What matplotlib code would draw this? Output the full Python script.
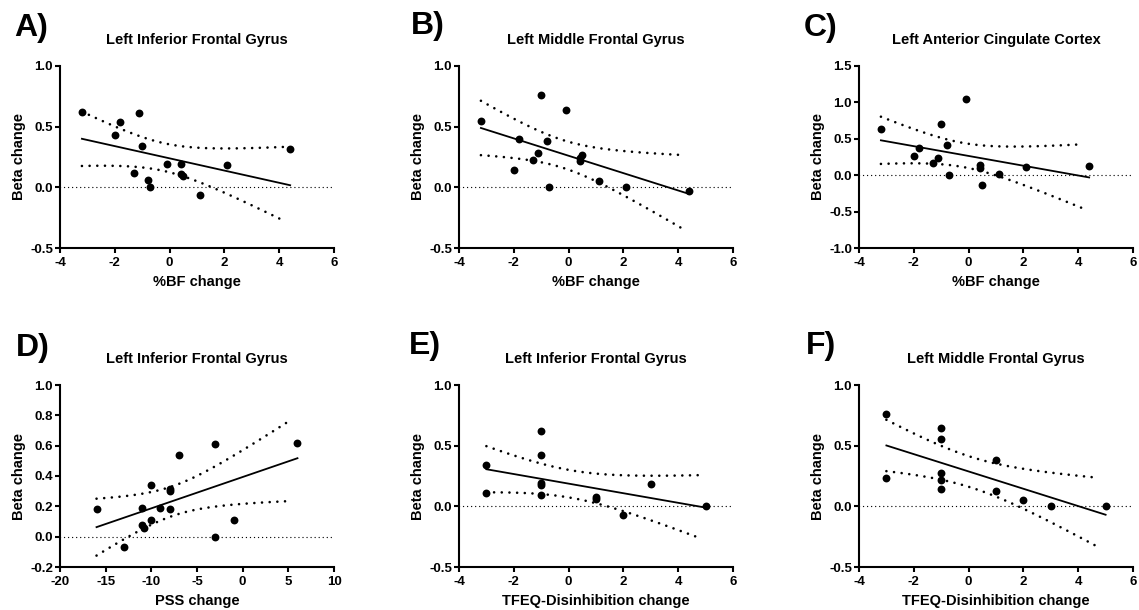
import numpy as np
import matplotlib.pyplot as plt

plt.rcParams['font.family'] = ['Liberation Sans', 'DejaVu Sans']
plt.rcParams['font.weight'] = 'bold'

# body fat change (%BF) for the top row
bf_a = [-3.2, -1.8, -2.0, -1.1, -1.0, -1.3, -0.8, -0.7, -0.1, 0.4, 0.4, 0.5, 1.1, 2.1, 4.4]
beta_a = [0.62, 0.54, 0.43, 0.61, 0.34, 0.115, 0.06, 0.0, 0.195, 0.195, 0.11, 0.09, -0.065, 0.18, 0.32]

bf_b = [-3.2, -1.0, -0.1, -1.8, -0.8, -1.1, -1.3, -2.0, -0.7, 0.5, 0.4, 0.4, 1.1, 2.1, 4.4]
beta_b = [0.55, 0.76, 0.64, 0.40, 0.38, 0.28, 0.225, 0.14, 0.0, 0.27, 0.22, 0.24, 0.05, 0.0, -0.03]

bf_c = [-3.2, -1.8, -2.0, -1.3, -1.1, -1.0, -0.8, -0.7, -0.1, 0.4, 0.4, 0.5, 1.1, 2.1, 4.4]
beta_c = [0.63, 0.38, 0.26, 0.17, 0.235, 0.71, 0.41, 0.0, 1.04, 0.14, 0.10, -0.14, 0.01, 0.11, 0.12]

# perceived stress change
pss_d = [-16, -13, -11, -11, -10.8, -10, -10, -9, -8, -8, -8, -7, -3, -3, -1, 6]
beta_d = [0.18, -0.068, 0.19, 0.08, 0.06, 0.34, 0.11, 0.19, 0.317, 0.30, 0.18, 0.54, 0.61, 0.0, 0.108, 0.62]

# TFEQ disinhibition change
tfeq_e = [-3, -3, -1, -1, -1, -1, -1, 1, 1, 2, 3, 5]
beta_e = [0.339, 0.109, 0.619, 0.427, 0.191, 0.172, 0.095, 0.081, 0.062, -0.069, 0.18, 0.0]

tfeq_f = [-3, -3, -1, -1, -1, -1, -1, 1, 1, 2, 3, 5]
beta_f = [0.761, 0.235, 0.644, 0.551, 0.274, 0.213, 0.145, 0.38, 0.125, 0.051, 0.0, 0.0]

# two-sided 95% t quantiles by degrees of freedom
t975 = {8: 2.306, 9: 2.262, 10: 2.228, 11: 2.201, 12: 2.179, 13: 2.160, 14: 2.145, 15: 2.131}

panels = [
    ('A)', 'Left Inferior Frontal Gyrus', '%BF change', bf_a, beta_a, (-4, 6), [-4, -2, 0, 2, 4, 6], (-0.5, 1.0), [-0.5, 0.0, 0.5, 1.0]),
    ('B)', 'Left Middle Frontal Gyrus', '%BF change', bf_b, beta_b, (-4, 6), [-4, -2, 0, 2, 4, 6], (-0.5, 1.0), [-0.5, 0.0, 0.5, 1.0]),
    ('C)', 'Left Anterior Cingulate Cortex', '%BF change', bf_c, beta_c, (-4, 6), [-4, -2, 0, 2, 4, 6], (-1.0, 1.5), [-1.0, -0.5, 0.0, 0.5, 1.0, 1.5]),
    ('D)', 'Left Inferior Frontal Gyrus', 'PSS change', pss_d, beta_d, (-20, 10), [-20, -15, -10, -5, 0, 5, 10], (-0.2, 1.0), [-0.2, 0.0, 0.2, 0.4, 0.6, 0.8, 1.0]),
    ('E)', 'Left Inferior Frontal Gyrus', 'TFEQ-Disinhibition change', tfeq_e, beta_e, (-4, 6), [-4, -2, 0, 2, 4, 6], (-0.5, 1.0), [-0.5, 0.0, 0.5, 1.0]),
    ('F)', 'Left Middle Frontal Gyrus', 'TFEQ-Disinhibition change', tfeq_f, beta_f, (-4, 6), [-4, -2, 0, 2, 4, 6], (-0.5, 1.0), [-0.5, 0.0, 0.5, 1.0]),
]

W, H = 1139, 610
fig = plt.figure(figsize=(W / 100, H / 100), dpi=100)

lefts = [60, 459, 859]
bottoms = [248, 567]
letter_pos = [(14, 36), (411, 34), (804, 36), (16, 356), (409, 354), (806, 354)]

for i, (letter, title, xlabel, x, y, xlim, xticks, ylim, yticks) in enumerate(panels):
    row, col = divmod(i, 3)
    ax = fig.add_axes([lefts[col] / W, 1 - bottoms[row] / H, 274 / W, 182 / H])

    x = np.array(x, dtype=float)
    y = np.array(y, dtype=float)
    n = len(x)
    slope, icpt = np.polyfit(x, y, 1)
    resid = y - (slope * x + icpt)
    s = np.sqrt(np.sum(resid ** 2) / (n - 2))
    xs = np.linspace(x.min(), x.max(), 100)
    fit = slope * xs + icpt
    se = s * np.sqrt(1 / n + (xs - x.mean()) ** 2 / np.sum((x - x.mean()) ** 2))
    t = t975[n - 2]

    # zero reference line
    ax.plot(xlim, [0, 0], color='black', lw=1.0, linestyle=(0, (0.01, 2.9)),
            dash_capstyle='round', zorder=1)
    ax.plot(xs, fit, color='black', lw=1.3, zorder=2)
    # 95% confidence band of the fit
    xb = xs[xs <= x.max() - 0.02 * (xlim[1] - xlim[0])]
    nb = len(xb)
    for band in (fit - t * se, fit + t * se):
        ax.plot(xb, band[:nb], color='black', lw=1.9, linestyle=(0, (0.01, 2.9)),
                dash_capstyle='round', zorder=2)
    ax.scatter(x, y, s=32, color='black', zorder=3, linewidths=0)

    ax.set_xlim(xlim)
    ax.set_ylim(ylim)
    ax.set_xticks(xticks)
    ax.set_yticks(yticks)
    ax.set_xticklabels([str(v) for v in xticks])
    ax.set_yticklabels(['%.1f' % v for v in yticks])
    for side in ('top', 'right'):
        ax.spines[side].set_visible(False)
    for side in ('left', 'bottom'):
        ax.spines[side].set_linewidth(1.5)
    ax.tick_params(axis='both', length=3.5, width=1.5, labelsize=9.5)
    ax.tick_params(axis='x', pad=3)
    ax.tick_params(axis='y', pad=1.5)
    for lab in ax.get_xticklabels() + ax.get_yticklabels():
        lab.set_fontweight('bold')

    ax.set_title(title, fontsize=10.5, fontweight='bold', pad=16)
    ax.set_xlabel(xlabel, fontsize=10.5, fontweight='bold', labelpad=4)
    ax.set_ylabel('Beta change', fontsize=10.5, fontweight='bold', labelpad=3)

    lx, ly = letter_pos[i]
    fig.text(lx / W, 1 - ly / H, letter, fontsize=23, fontweight='bold', va='baseline', ha='left')

fig.savefig('out.png', dpi=100)
